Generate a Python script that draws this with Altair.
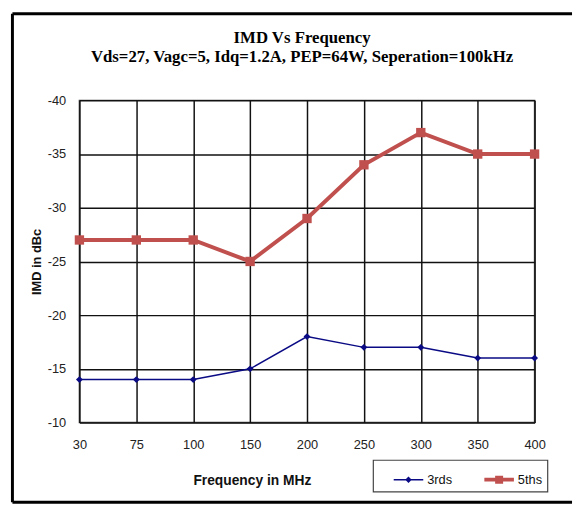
import altair as alt
import pandas as pd

freqs = ["30", "75", "100", "150", "200", "250", "300", "350", "400"]
imd_3rds = [-14, -14, -14, -15, -18, -17, -17, -16, -16]
imd_5ths = [-27, -27, -27, -25, -29, -34, -37, -35, -35]
series_names = ["3rds", "5ths"]
y_ticks = [-40, -35, -30, -25, -20, -15, -10]

title_text = "IMD Vs Frequency"
subtitle_text = "Vds=27, Vagc=5, Idq=1.2A, PEP=64W, Seperation=100kHz"

df = pd.DataFrame({
    "freq": freqs * 2,
    "imd": imd_3rds + imd_5ths,
    "series": [series_names[0]] * len(freqs) + [series_names[1]] * len(freqs),
})

colors = ["#0a0a85", "#C0504D"]
line_widths = [1.5, 4]
marker_shapes = ["diamond", "square"]
marker_sizes = [49, 90]
sans = "Liberation Sans"
serif = "Liberation Serif"

x_enc = alt.X(
    "freq:O", sort=freqs,
    scale=alt.Scale(type="point", padding=0),
    axis=alt.Axis(
        labelAngle=0, labelFont=sans, labelFontSize=13, labelColor="#222",
        labelPadding=16, ticks=False, domain=False,
        grid=True, gridColor="#111", gridWidth=1.5, gridOpacity=1,
        title="Frequency in MHz", titleFont=sans, titleFontSize=14,
        titleFontWeight="bold", titleColor="#111",
        titleX=175, titleY=59, titleAlign="center", titleBaseline="middle",
    ),
)
y_enc = alt.Y(
    "imd:Q",
    scale=alt.Scale(domain=[-40, -10], reverse=True, nice=False, zero=False),
    axis=alt.Axis(
        values=y_ticks, labelExpr="'' + datum.value",
        labelFont=sans, labelFontSize=13, labelColor="#222",
        labelPadding=14, ticks=False, domain=False,
        grid=True, gridColor="#111", gridWidth=1.5, gridOpacity=1,
        title="IMD in dBc", titleFont=sans, titleFontSize=13,
        titleFontWeight="bold", titleColor="#111", titlePadding=4,
    ),
)
color_scale = alt.Scale(domain=series_names, range=colors)

path3 = "M-1,-0.05L1,-0.05L1,0.05L-1,0.05Z M0,-0.22L0.22,0L0,0.22L-0.22,0Z"
path5 = "M-1,-0.13L1,-0.13L1,0.13L-1,0.13Z M-0.27,-0.27L0.27,-0.27L0.27,0.27L-0.27,0.27Z"

legend_def = alt.Legend(
    title=None, orient="none", legendX=298, legendY=365, direction="horizontal",
    strokeColor="#444", padding=5, fillColor="white",
    symbolSize=900, symbolOpacity=1, symbolStrokeWidth=0, symbolOffset=16,
    labelFont=sans, labelFontSize=13, labelColor="#111", labelOffset=4,
    columnPadding=16,
)

base = alt.Chart(df)

series_layers = []
for name, col, lw, shp, sz in zip(series_names, colors, line_widths, marker_shapes, marker_sizes):
    sub = base.transform_filter(alt.datum.series == name)
    series_layers.append(sub.mark_line(color=col, strokeWidth=lw).encode(x=x_enc, y=y_enc))
    series_layers.append(
        sub.mark_point(filled=True, opacity=1, color=col, shape=shp, size=sz).encode(x=x_enc, y=y_enc)
    )

legend_layer = base.mark_point(filled=True, opacity=0, strokeWidth=0).encode(
    x=x_enc, y=y_enc,
    color=alt.Color("series:N", scale=color_scale, legend=legend_def),
    shape=alt.Shape("series:N", scale=alt.Scale(domain=series_names, range=[path3, path5]), legend=legend_def),
)

frame_df = pd.DataFrame({"k": [0]})
frame = alt.Chart(frame_df)
left_rule = frame.mark_rule(color="black", strokeWidth=3).encode(
    x=alt.value(-68), y=alt.value(-88), y2=alt.value(408))
top_rule = frame.mark_rule(color="black", strokeWidth=3).encode(
    x=alt.value(-68), x2=alt.value(500), y=alt.value(-88))
bottom_rule = frame.mark_rule(color="black", strokeWidth=3).encode(
    x=alt.value(-68), x2=alt.value(500), y=alt.value(408))

chart = alt.layer(*series_layers, legend_layer, left_rule, top_rule, bottom_rule).properties(
    width=462, height=327,
    padding={"left": 2.5, "top": 0, "right": 0, "bottom": 0},
    title=alt.TitleParams(
        text=title_text, subtitle=subtitle_text,
        font=serif, fontSize=17, fontWeight="bold", color="black",
        subtitleFont=serif, subtitleFontSize=17, subtitleFontWeight="bold",
        subtitleColor="black", subtitlePadding=3,
        anchor="middle", frame="group", offset=-55, dx=-5,
    ),
).configure_view(
    stroke="#444", strokeWidth=1.5
).configure_legend(
    strokeWidth=1.2
)

chart.save("out.html", embed_options={"renderer": "svg", "actions": False})
